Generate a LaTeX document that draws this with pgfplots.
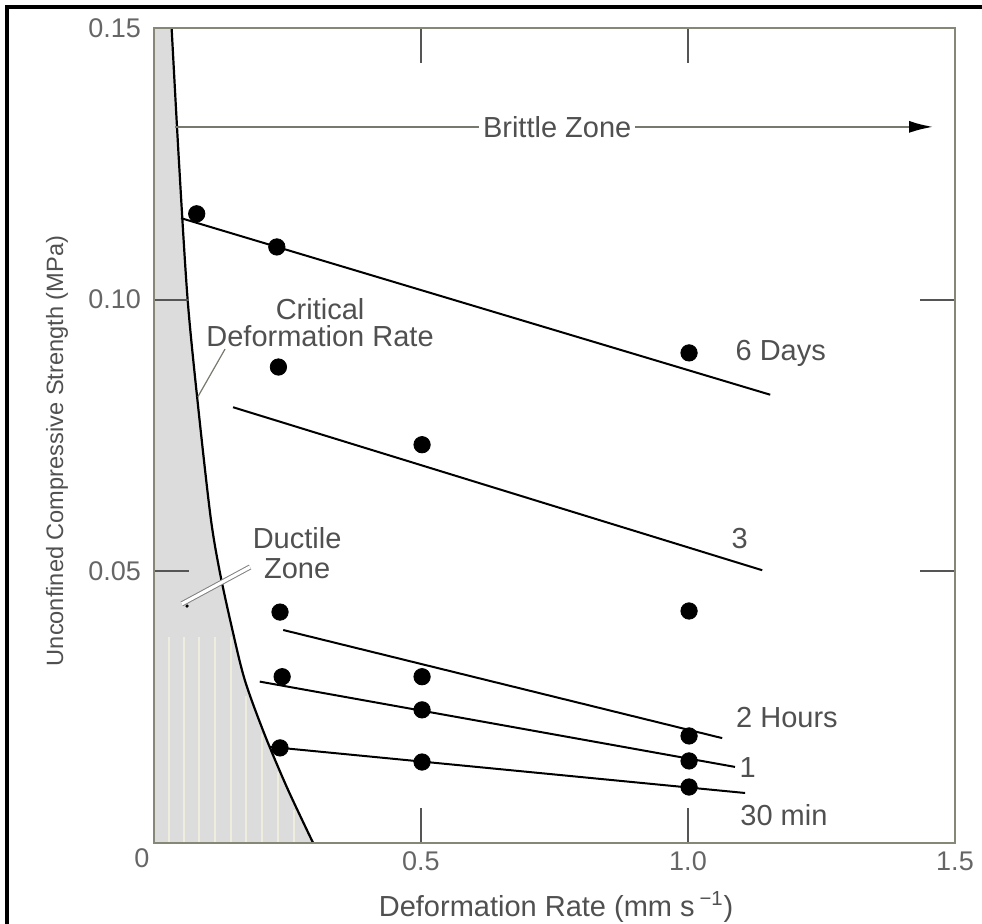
\documentclass[border=0pt]{standalone}
\usepackage{pgfplots}
\pgfplotsset{compat=1.18}
\usepackage{fontspec}
\setmainfont{Liberation Sans}
\usetikzlibrary{arrows.meta}
\definecolor{axcol}{RGB}{135,135,120}
\definecolor{tickcol}{RGB}{85,85,85}
\definecolor{txtcol}{RGB}{80,80,80}
\definecolor{ductile}{RGB}{220,220,220}
\definecolor{stripe}{RGB}{238,237,222}
\definecolor{leader}{RGB}{120,120,110}
\begin{document}
\begin{tikzpicture}
\useasboundingbox (0,0) rectangle (491pt,462pt);
\draw[line width=1.6pt,black] (3.5pt,0) -- (3.5pt,458.5pt) -- (491pt,458.5pt);
\begin{axis}[
  at={(77pt,40.5pt)}, anchor=south west,
  scale only axis, width=400.5pt, height=407.5pt,
  xmin=0, xmax=1.5, ymin=0, ymax=0.15,
  clip=false, axis on top,
  xtick={0.5,1,1.5}, xticklabels={0.5,1.0,1.5},
  ytick={0.05,0.1,0.15}, yticklabels={0.05,0.10,0.15},
  tick pos=both, tick align=inside,
  major tick length=17.5pt,
  every tick/.style={color=tickcol, line width=0.9pt},
  axis line style={color=axcol, line width=1pt},
  ticklabel style={font=\fontsize{13.5}{15}\selectfont, text=gray!80!black},
  xticklabel style={yshift=-1pt},
  yticklabel style={xshift=-3pt},
  xlabel={Deformation Rate (mm s\,\textsuperscript{−1})},
  xlabel style={at={(axis description cs:0.502,0)}, anchor=center, yshift=-32pt,
    font=\fontsize{14.5}{16}\selectfont, text=txtcol},
  ylabel={Unconfined Compressive Strength (MPa)},
  ylabel style={at={(axis description cs:-0.1211,0.481)}, anchor=center,
    font=\fontsize{11.8}{14}\selectfont, text=txtcol},
]
% ductile zone fill
\addplot[fill=ductile, draw=none] coordinates {(0,0) (0,0.15) (0.034,0.15) (0.034,0)} \closedcycle;
\addplot[fill=ductile, draw=none, smooth] coordinates {
 (0.033,0.150) (0.047,0.125) (0.063,0.100) (0.083,0.080) (0.106,0.060)
 (0.123,0.050) (0.145,0.040) (0.170,0.030) (0.207,0.020) (0.250,0.010) (0.298,0.000)} \closedcycle;
% faint scan stripes
\addplot[ycomb, color=stripe, line width=1pt, mark=none] coordinates {
 (0.028,0.038) (0.056,0.038) (0.084,0.038) (0.114,0.038) (0.144,0.038)
 (0.172,0.027) (0.202,0.020) (0.232,0.013) (0.262,0.006)};
% critical deformation rate curve
\addplot[black, line width=1.1pt, smooth] coordinates {
 (0.033,0.150) (0.047,0.125) (0.063,0.100) (0.083,0.080) (0.106,0.060)
 (0.123,0.050) (0.145,0.040) (0.170,0.030) (0.207,0.020) (0.250,0.010) (0.298,0.000)};
% fitted lines
\addplot[black, line width=1pt] coordinates {(0.0506,0.1150) (1.154,0.0825)};
\addplot[black, line width=1pt] coordinates {(0.148,0.0802) (1.139,0.0502)};
\addplot[black, line width=1pt] coordinates {(0.242,0.0392) (1.064,0.0193)};
\addplot[black, line width=1pt] coordinates {(0.198,0.0297) (1.088,0.0140)};
\addplot[black, line width=1pt] coordinates {(0.217,0.0177) (1.107,0.0092)};
% data points
\addplot[only marks, mark=*, mark size=4.1pt, black] coordinates {
 (0.080,0.1158) (0.230,0.1097) (1.002,0.0902)
 (0.233,0.0876) (0.502,0.0733) (1.002,0.0427)
 (0.236,0.0425) (0.502,0.0306) (1.002,0.0197)
 (0.240,0.0306) (0.502,0.0245) (1.002,0.0151)
 (0.236,0.0175) (0.502,0.0149) (1.002,0.0103)};
% brittle zone arrow
\addplot[color=leader, line width=1pt, -{Latex[length=12pt,width=6pt,color=black]}]
  coordinates {(0.039,0.1318) (1.459,0.1318)};
\node[fill=white, inner sep=2pt, text=txtcol, font=\fontsize{14.5}{16}\selectfont]
  at (axis cs:0.755,0.1318) {Brittle Zone};
% critical deformation rate label
\draw[leader, line width=0.6pt] (axis cs:0.133,0.0909) -- (axis cs:0.082,0.0821);
\node[align=center, text=txtcol, font=\fontsize{14.5}{13.5}\selectfont]
  at (axis cs:0.311,0.0957) {Critical\\Deformation Rate};
% ductile zone label
\draw[draw=gray, double=white, double distance=1.6pt, line width=0.5pt]
  (axis cs:0.180,0.0508) -- (axis cs:0.052,0.0440);
\fill[black] (axis cs:0.062,0.0436) circle (0.9pt);
\node[align=center, text=txtcol, font=\fontsize{14.5}{15}\selectfont]
  at (axis cs:0.268,0.0534) {Ductile\\Zone};
% series labels
\node[anchor=west, text=txtcol, font=\fontsize{14.5}{16}\selectfont] at (axis cs:1.076,0.0902) {6 Days};
\node[text=txtcol, font=\fontsize{14.5}{16}\selectfont] at (axis cs:1.097,0.0561) {3};
\node[anchor=west, text=txtcol, font=\fontsize{14.5}{16}\selectfont] at (axis cs:1.077,0.0230) {2 Hours};
\node[text=txtcol, font=\fontsize{14.5}{16}\selectfont] at (axis cs:1.112,0.0138) {1};
\node[anchor=west, text=txtcol, font=\fontsize{14.5}{16}\selectfont] at (axis cs:1.085,0.0052) {30 min};
% shared origin label
\node[text=gray!80!black, font=\fontsize{13.5}{15}\selectfont] at (axis cs:-0.0225,-0.0028) {0};
\end{axis}
\end{tikzpicture}
\end{document}
